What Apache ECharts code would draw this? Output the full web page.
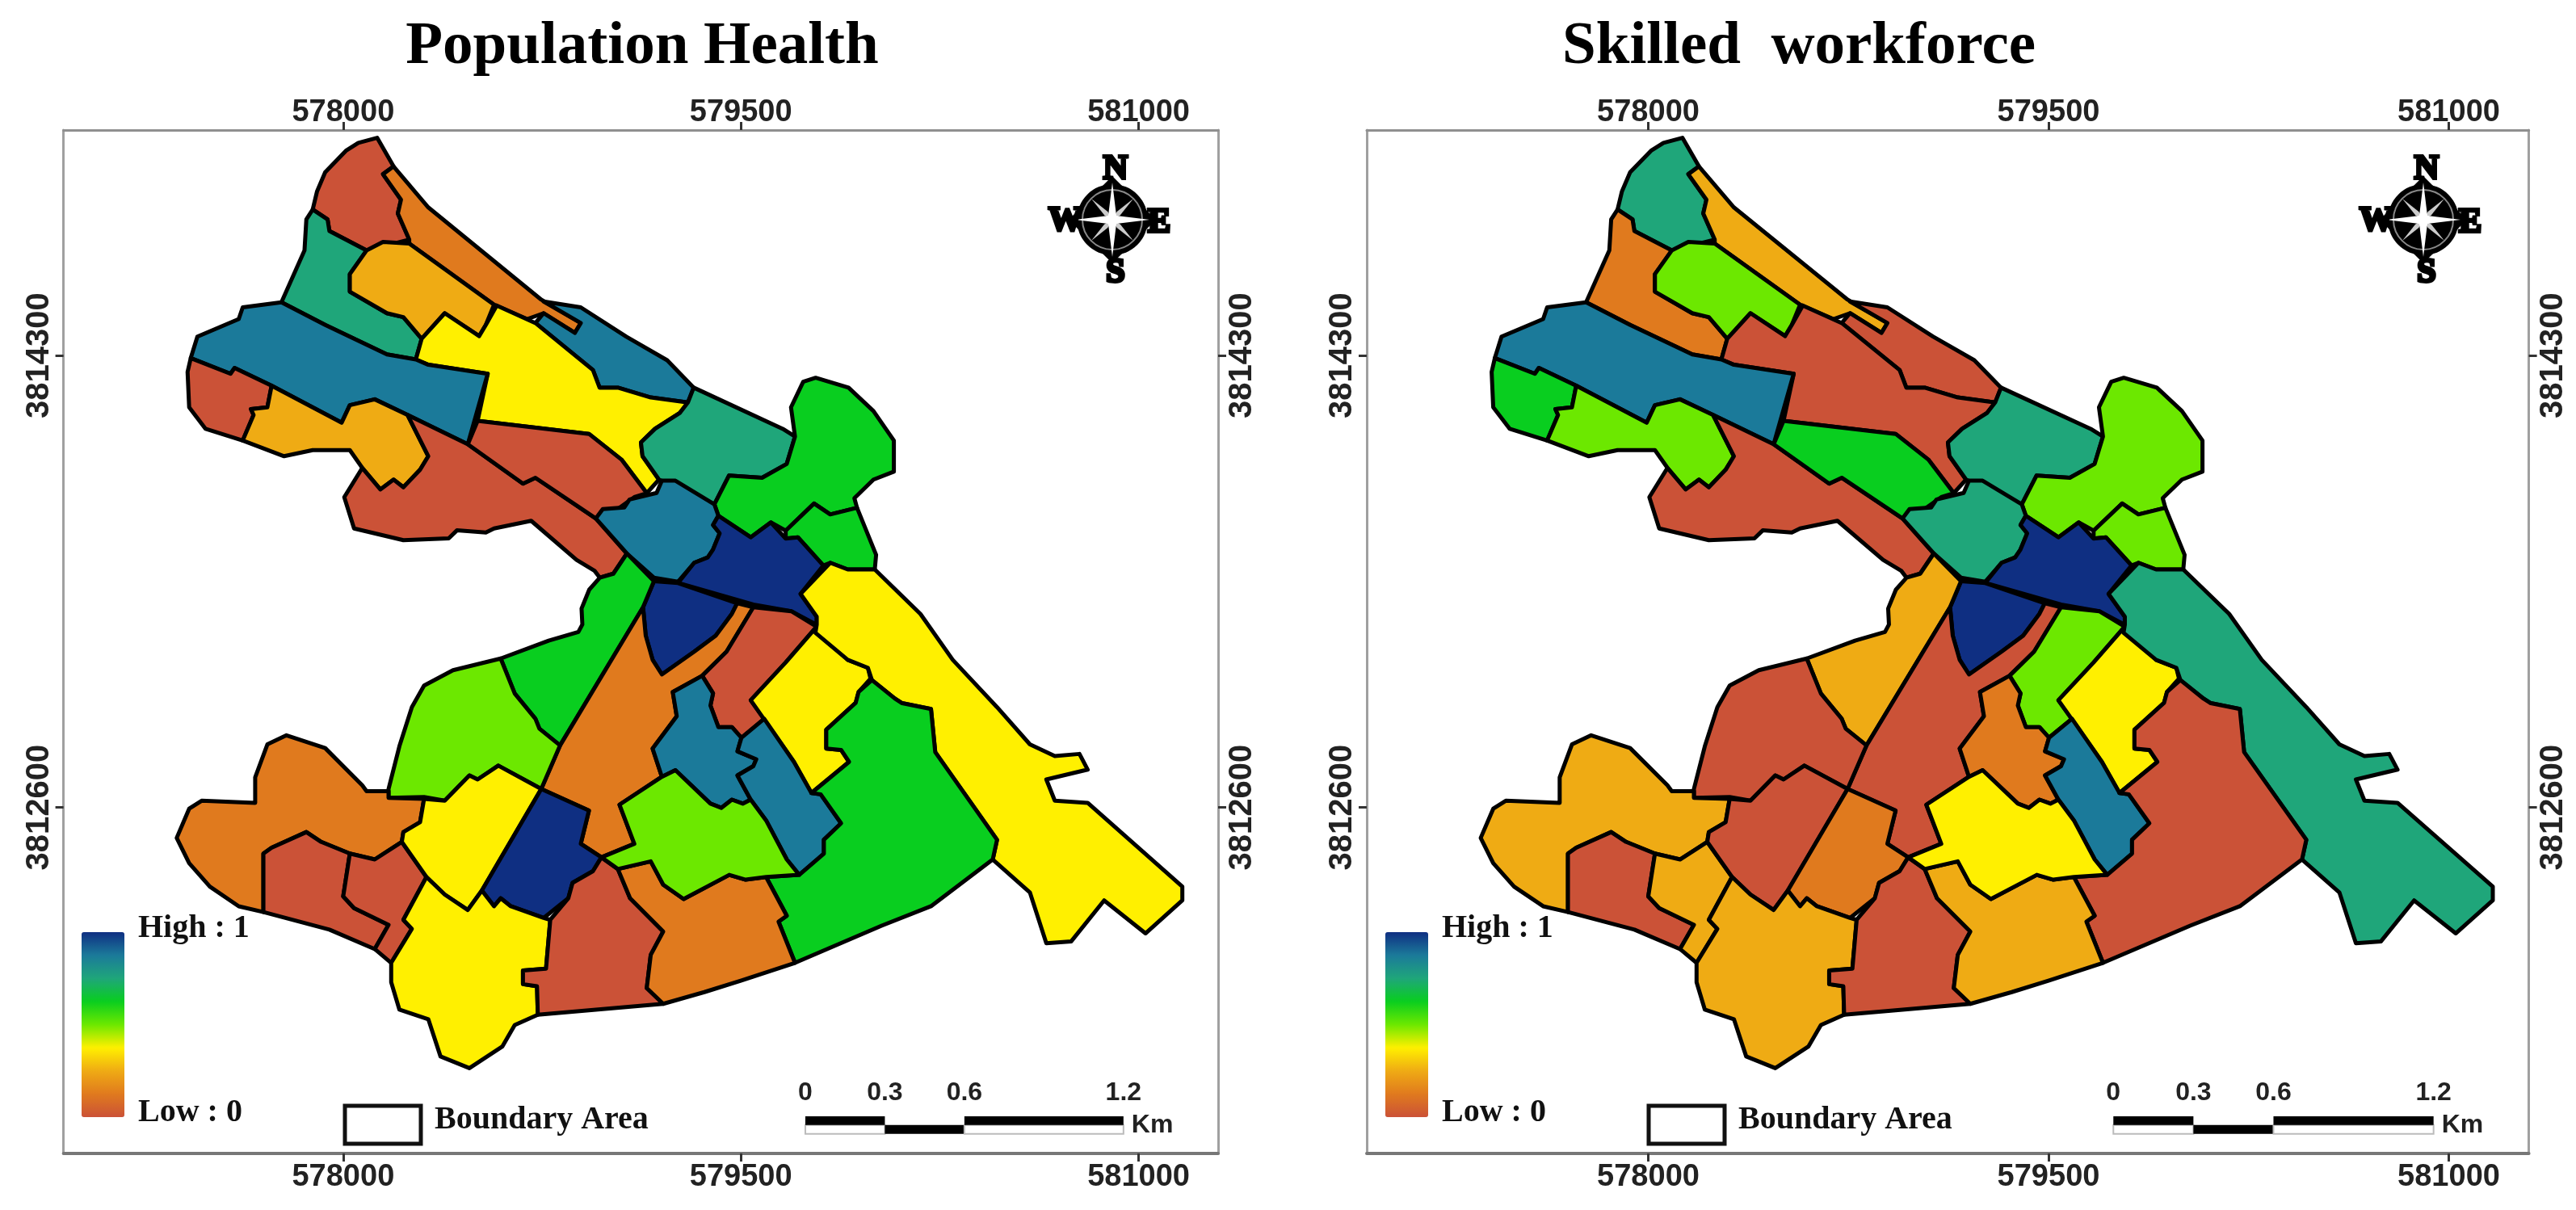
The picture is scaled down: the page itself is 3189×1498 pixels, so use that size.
<!DOCTYPE html>
<html>
<head>
<meta charset="utf-8">
<title>Population Health / Skilled workforce</title>
<script src="https://cdn.jsdelivr.net/npm/echarts@6/dist/echarts.min.js"></script>
<style>
html, body { margin: 0; padding: 0; background: #fff; }
#main { width: 3189px; height: 1498px; }
</style>
</head>
<body>
<div id="main"></div>
<script>
// 图名
const panelTitles = ['Population Health', 'Skilled  workforce'];
// 坐标轴刻度 (UTM)
const eastTicks = [578000, 579500, 581000];
const northTicks = [3812600, 3814300];
const eastRange = [576945, 581300];
const northRange = [3811298, 3815148];
// 图例和比例尺
const legendTexts = ['High : 1', 'Low : 0', 'Boundary Area'];
const scaleStops = [0, 0.3, 0.6, 1.2]; // km
const rampColors = ['#cb5237', '#e07a1e', '#efab14', '#fff000', '#6ce800', '#09ce1f', '#1fa67a', '#1b7a9a', '#0f2f82'];

// 分区边界：相对 (578000, 3812600) 的米数
const originE = 578000;
const originN = 3812600;
const zoneRings = [
    [[128,2519],[190,2411],[150,2382],[218,2286],[206,2234],[249,2136],[88,2095],[-52,2168],[-59,2212],[-115,2249],[-99,2316],[-68,2389],[10,2470],[57,2500]],
    [[190,2411],[321,2257],[747,1910],[771,1896],[896,1822],[874,1785],[756,1859],[694,1837],[569,1891],[249,2121],[249,2136],[206,2234],[218,2286],[150,2382]],
    [[756,1903],[896,1881],[1067,1771],[1222,1682],[1322,1579],[1300,1523],[1160,1542],[1036,1579],[967,1579],[942,1645],[725,1822],[756,1859],[874,1785],[896,1822]],
    [[-115,2249],[-59,2212],[-52,2168],[88,2095],[25,2006],[25,1940],[165,1859],[227,1844],[296,1763],[274,1685],[165,1704],[-68,1815],[-233,1900],[-146,2095],[-139,2212]],
    [[88,2095],[150,2127],[249,2121],[569,1891],[538,1815],[513,1773],[383,1859],[296,1763],[227,1844],[165,1859],[25,1940],[25,2006]],
    [[383,1859],[513,1773],[538,1815],[579,1888],[725,1822],[942,1645],[967,1579],[1036,1579],[1160,1542],[1300,1523],[1269,1483],[1176,1424],[1123,1373],[1129,1321],[1191,1233],[1145,1182],[1051,1307],[927,1405],[507,1454],[545,1631],[321,1665],[274,1685],[296,1763]],
    [[-233,1900],[-68,1815],[165,1704],[274,1685],[321,1665],[545,1631],[470,1366],[243,1476],[119,1535],[25,1513],[-6,1447],[-270,1586],[-410,1653],[-425,1631],[-575,1690],[-550,1771],[-394,1837],[-379,1881]],
    [[-575,1690],[-425,1631],[-410,1653],[-270,1586],[-286,1505],[-348,1498],[-338,1476],[-379,1380],[-519,1424],[-581,1505],[-587,1638]],
    [[-270,1586],[-6,1447],[25,1513],[119,1535],[243,1476],[321,1321],[290,1270],[227,1204],[190,1233],[140,1196],[72,1277],[25,1344],[-115,1344],[-223,1321],[-379,1380],[-338,1476],[-348,1498],[-286,1505]],
    [[243,1476],[470,1366],[678,1218],[725,1240],[953,1087],[1070,955],[1019,879],[968,864],[948,890],[880,931],[709,1078],[569,1049],[538,1034],[429,1042],[398,1012],[227,1005],[41,1049],[4,1167],[72,1277],[140,1196],[190,1233],[227,1204],[290,1270],[321,1321]],
    [[507,1454],[927,1405],[1051,1307],[1145,1182],[1098,1167],[1036,1123],[953,1087],[725,1240],[678,1218],[470,1366]],
    [[1322,1579],[1658,1424],[1704,1395],[1673,1292],[1580,1240],[1455,1248],[1400,1140],[1191,1233],[1129,1321],[1123,1373],[1176,1424],[1269,1483],[1300,1523]],
    [[1704,1395],[1689,1505],[1735,1601],[1782,1616],[1906,1579],[2000,1491],[2077,1380],[2077,1263],[2000,1233],[1928,1163],[1938,1127],[1837,1102],[1776,1143],[1669,1041],[1613,1072],[1537,1016],[1415,1097],[1400,1140],[1455,1248],[1580,1240],[1673,1292]],
    [[1938,1127],[2010,950],[2005,895],[1903,895],[1837,920],[1811,910],[1715,1016],[1669,1011],[1669,1041],[1776,1143],[1837,1102]],
    [[953,1087],[979,1122],[1060,1128],[1080,1158],[1182,1183],[1202,1229],[1253,1229],[1400,1140],[1415,1097],[1395,1062],[1420,1031],[1395,970],[1375,940],[1324,920],[1263,849],[1172,864],[1070,955]],
    [[1263,844],[1324,920],[1375,940],[1395,970],[1420,1031],[1395,1062],[1415,1097],[1537,1016],[1613,1072],[1669,1011],[1715,1016],[1811,910],[1725,803],[1786,717],[1786,687],[1690,738],[1547,763]],
    [[1172,851],[1263,844],[1486,768],[1466,728],[1405,646],[1324,586],[1202,500],[1167,555],[1141,646],[1131,753]],
    [[594,560],[775,627],[887,660],[902,688],[899,748],[928,819],[968,864],[1019,879],[1070,955],[1172,851],[1131,753],[818,233],[740,296],[725,333],[647,428]],
    [[818,233],[1131,753],[1141,646],[1167,555],[1202,500],[1324,586],[1405,646],[1466,728],[1486,768],[1547,753],[1446,586],[1354,495],[1243,434],[1258,343],[1167,221],[1202,115],[1042,10],[1098,-137],[974,-188],[896,-137],[927,-12],[747,69]],
    [[1547,753],[1690,738],[1786,680],[1669,545],[1537,403],[1588,333],[1502,262],[1466,302],[1415,302],[1385,383],[1395,429],[1354,495],[1446,586]],
    [[1786,680],[1903,555],[1979,525],[1989,484],[1944,434],[1933,393],[1822,292],[1822,221],[1878,216],[1908,171],[1766,54],[1700,171],[1537,403],[1669,545]],
    [[1243,434],[1354,495],[1395,429],[1385,383],[1415,302],[1466,302],[1502,262],[1487,211],[1558,181],[1547,155],[1487,120],[1537,29],[1507,14],[1466,29],[1426,-2],[1385,14],[1253,140],[1202,115],[1167,221],[1258,343]],
    [[1588,333],[1700,171],[1766,54],[1801,49],[1878,-60],[1813,-122],[1813,-174],[1720,-254],[1673,-196],[1595,-49],[1537,29],[1487,120],[1547,155],[1558,181],[1487,211],[1502,262]],
    [[1725,803],[1837,920],[1903,895],[2005,895],[2177,728],[2299,555],[2466,377],[2590,237],[2684,193],[2777,201],[2808,142],[2652,105],[2684,25],[2808,17],[3165,-298],[3165,-350],[3026,-474],[2870,-350],[2746,-504],[2652,-511],[2590,-320],[2450,-196],[2466,-122],[2233,208],[2217,370],[2108,392],[2081,409],[1994,479],[1979,525],[1903,555],[1781,657],[1786,687],[1786,717]],
    [[1994,479],[2081,409],[2108,392],[2217,370],[2233,208],[2466,-122],[2450,-196],[2217,-372],[2031,-445],[1704,-585],[1642,-430],[1673,-408],[1595,-262],[1720,-254],[1813,-174],[1813,-122],[1878,-60],[1801,49],[1766,54],[1908,171],[1878,216],[1822,221],[1822,292],[1933,393],[1944,434]],
    [[594,560],[647,428],[725,333],[740,296],[818,233],[747,69],[585,157],[507,105],[476,120],[383,25],[305,39],[171,36],[171,69],[212,230],[259,377],[305,458],[414,516]],
    [[-214,271],[-68,223],[72,83],[88,61],[171,61],[171,36],[305,32],[290,-56],[227,-93],[221,-130],[119,-196],[25,-174],[-83,-130],[-139,-93],[-270,-152],[-301,-174],[-301,-394],[-394,-372],[-503,-298],[-581,-210],[-628,-115],[-581,-5],[-534,25],[-332,17],[-332,113],[-286,237]],
    [[-139,-93],[-83,-130],[25,-174],[0,-335],[41,-379],[171,-442],[119,-533],[-52,-460],[-301,-394],[-301,-174],[-270,-152]],
    [[25,-174],[119,-196],[221,-130],[314,-262],[227,-423],[259,-457],[181,-585],[119,-533],[171,-442],[41,-379],[0,-335]],
    [[585,157],[747,69],[523,-313],[470,-386],[383,-328],[314,-262],[221,-130],[227,-93],[290,-56],[305,32],[383,25],[476,120],[507,105]],
    [[747,69],[927,-12],[896,-137],[974,-188],[942,-240],[865,-284],[849,-342],[756,-416],[632,-372],[594,-342],[569,-372],[523,-313]],
    [[314,-262],[383,-328],[470,-386],[523,-313],[569,-372],[594,-342],[632,-372],[756,-416],[781,-423],[765,-607],[678,-614],[678,-665],[731,-673],[734,-780],[647,-819],[600,-900],[476,-981],[367,-937],[321,-797],[212,-761],[181,-658],[181,-585],[259,-457],[227,-423]],
    [[781,-423],[849,-342],[865,-284],[942,-240],[974,-188],[1036,-232],[1082,-342],[1207,-467],[1160,-555],[1145,-680],[1207,-739],[734,-780],[731,-673],[678,-665],[678,-614],[765,-607]],
    [[1036,-232],[1160,-203],[1207,-291],[1284,-345],[1456,-254],[1518,-272],[1595,-262],[1673,-408],[1642,-430],[1704,-585],[1502,-651],[1362,-695],[1207,-739],[1145,-680],[1160,-555],[1207,-467],[1082,-342]],
    [[1253,140],[1385,14],[1426,-2],[1466,29],[1507,14],[1537,29],[1595,-49],[1673,-196],[1720,-254],[1595,-262],[1518,-272],[1456,-254],[1284,-345],[1207,-291],[1160,-203],[1036,-232],[974,-188],[1098,-137],[1042,10],[1202,115]]
];
// 每个分区的取值（按颜色读图估计）
const healthValues = [0, 0.125, 0.875, 0.75, 0.25, 0.375, 0.875, 0, 0.25, 0, 0, 0.75, 0.625, 0.625, 0.875, 1, 1, 0.625, 0.125, 0, 0.375, 0.875, 0.875, 0.375, 0.625, 0.5, 0.125, 0, 0, 0.375, 1, 0.375, 0, 0.125, 0.5];
const workforceValues = [0.75, 0.25, 0, 0.125, 0.5, 0, 0.875, 0.625, 0.5, 0, 0.625, 0.75, 0.5, 0.5, 0.75, 1, 1, 0.25, 0, 0.5, 0.375, 0.125, 0.875, 0.75, 0, 0, 0.25, 0, 0.25, 0, 0.125, 0.25, 0, 0.25, 0.375];

// 面板位置
const panels = [
    { left: 78.6, width: 1429.4, titleX: 790, dx: 0, roseX: 1377 },
    { left: 1692, width: 1438.6, titleX: 2222, dx: 1614, roseX: 3000 }
];
const panelTop = 161;
const panelHeight = 1267;

// 分区多边形
function renderZone(params, api) {
    const ring = zoneRings[api.value(0)];
    const points = ring.map(function (p) {
        return api.coord([originE + p[0], originN + p[1]]);
    });
    return {
        type: 'polygon',
        shape: { points: points },
        style: { fill: api.visual('color'), stroke: '#000', lineWidth: 5, lineJoin: 'round' }
    };
}

// 比例尺，起点和高度都走坐标轴
const barE = 579743;
const barN = 3811438;
const barMid = 3811405;
const barLow = 3811372;
function renderScale(params, api) {
    const i = api.value(0);
    const a = api.coord([barE + scaleStops[i] * 1000, barN]);
    const m = api.coord([barE + scaleStops[i] * 1000, barMid]);
    const low = api.coord([barE + scaleStops[i] * 1000, barLow]);
    const labelFont = 'bold 32px "Liberation Sans"';
    const children = [{
        type: 'text',
        style: { text: String(scaleStops[i]), x: a[0], y: a[1] - 29, font: labelFont, fill: '#222', textAlign: 'center', textVerticalAlign: 'middle' }
    }];
    if (i < scaleStops.length - 1) {
        const b = api.coord([barE + scaleStops[i + 1] * 1000, barN]);
        const w = b[0] - a[0];
        if (i === 1) {
            children.push({ type: 'rect', shape: { x: a[0], y: m[1], width: w, height: low[1] - m[1] }, style: { fill: '#000' } });
        } else {
            children.push({ type: 'rect', shape: { x: a[0], y: m[1], width: w, height: low[1] - m[1] }, style: { fill: '#fff', stroke: '#bbb', lineWidth: 2 } });
            children.push({ type: 'rect', shape: { x: a[0], y: a[1], width: w, height: m[1] - a[1] }, style: { fill: '#000' } });
        }
    } else {
        children.push({
            type: 'text',
            style: { text: 'Km', x: a[0] + 10, y: m[1], font: labelFont, fill: '#222', textAlign: 'left', textVerticalAlign: 'middle' }
        });
    }
    return { type: 'group', children: children };
}

// 指北针
function roseGraphic(cx) {
    const children = [];
    children.push({ type: 'polygon', shape: { points: [[0, -54], [54, 0], [0, 54], [-54, 0]] }, style: { fill: '#000' } });
    children.push({ type: 'circle', shape: { cx: 0, cy: 0, r: 44 }, style: { fill: '#000' } });
    children.push({ type: 'circle', shape: { cx: 0, cy: 0, r: 37 }, style: { fill: 'none', stroke: '#888', lineWidth: 2 } });
    [[26, 26], [-26, 26], [26, -26], [-26, -26]].forEach(function (d) {
        children.push({ type: 'polygon', shape: { points: [[0, 0], [d[0] * 0.3 + d[1] * 0.08, d[1] * 0.3 - d[0] * 0.08], [d[0], d[1]], [d[0] * 0.3 - d[1] * 0.08, d[1] * 0.3 + d[0] * 0.08]] }, style: { fill: '#ccc' } });
    });
    children.push({ type: 'polygon', shape: { points: [[0, -46], [5, -5], [46, 0], [5, 5], [0, 46], [-5, 5], [-46, 0], [-5, -5]] }, style: { fill: '#fff' } });
    [['N', 4, -62], ['S', 4, 66], ['W', -58, 2], ['E', 58, 4]].forEach(function (t) {
        children.push({
            type: 'text', x: t[1], y: t[2],
            style: { text: t[0], font: 'bold 42px "Liberation Serif"', fill: '#000', stroke: '#000', lineWidth: 4, textAlign: 'center', textVerticalAlign: 'middle' }
        });
    });
    return { type: 'group', x: cx, y: 272, children: children };
}

// 图例文字和边界框
function legendGraphics(dx) {
    const font = 'bold 40px "Liberation Serif"';
    return [
        { type: 'text', x: 171 + dx, y: 1170, style: { text: legendTexts[0], font: font, fill: '#111', textVerticalAlign: 'bottom' } },
        { type: 'text', x: 171 + dx, y: 1398, style: { text: legendTexts[1], font: font, fill: '#111', textVerticalAlign: 'bottom' } },
        { type: 'rect', shape: { x: 427 + dx, y: 1369, width: 94, height: 47 }, style: { fill: '#fff', stroke: '#111', lineWidth: 5 } },
        { type: 'text', x: 538 + dx, y: 1407, style: { text: legendTexts[2], font: font, fill: '#111', textVerticalAlign: 'bottom' } }
    ];
}

function axisLabelFormat(v) {
    return String(v);
}

function eastAxis(gridIndex, position, line) {
    return {
        type: 'value', gridIndex: gridIndex, position: position,
        min: eastRange[0], max: eastRange[1],
        splitLine: { show: false },
        axisLine: { show: true, onZero: false, lineStyle: line },
        axisTick: { show: true, customValues: eastTicks, length: 10, lineStyle: { color: '#333', width: 3 } },
        axisLabel: { show: true, customValues: eastTicks, margin: position === 'top' ? 2 : 11, formatter: axisLabelFormat, color: '#222', fontFamily: 'Liberation Sans', fontWeight: 'bold', fontSize: 38 }
    };
}

function northAxis(gridIndex, position, line) {
    return {
        type: 'value', gridIndex: gridIndex, position: position,
        min: northRange[0], max: northRange[1],
        splitLine: { show: false },
        axisLine: { show: true, onZero: false, lineStyle: line },
        axisTick: { show: true, customValues: northTicks, length: 10, lineStyle: { color: '#333', width: 3 } },
        axisLabel: { show: true, customValues: northTicks, rotate: 90, margin: 10, formatter: axisLabelFormat, color: '#222', fontFamily: 'Liberation Sans', fontWeight: 'bold', fontSize: 40 }
    };
}

const zoneData = [healthValues, workforceValues].map(function (values) {
    return values.map(function (v, i) { return [i, v]; });
});
const scaleData = scaleStops.map(function (s, i) { return [i, s]; });

const lineTop = { color: '#8f8f8f', width: 3 };
const lineBottom = { color: '#777', width: 4 };
const lineSide = { color: '#a0a0a0', width: 3 };

let graphics = [];
panels.forEach(function (p) {
    graphics = graphics.concat(legendGraphics(p.dx));
    graphics.push(roseGraphic(p.roseX));
});

const option = {
    backgroundColor: '#fff',
    animation: false,
    title: panels.map(function (p, i) {
        return {
            text: panelTitles[i], left: p.titleX, top: 16, textAlign: 'center',
            textStyle: { fontFamily: 'Liberation Serif', fontWeight: 'bold', fontSize: 75, color: '#000' }
        };
    }),
    grid: panels.map(function (p) {
        return { left: p.left, top: panelTop, width: p.width, height: panelHeight };
    }),
    xAxis: [
        eastAxis(0, 'bottom', lineBottom), eastAxis(0, 'top', lineTop),
        eastAxis(1, 'bottom', lineBottom), eastAxis(1, 'top', lineTop)
    ],
    yAxis: [
        northAxis(0, 'left', lineSide), northAxis(0, 'right', lineSide),
        northAxis(1, 'left', lineSide), northAxis(1, 'right', lineSide)
    ],
    visualMap: panels.map(function (p, i) {
        return {
            type: 'continuous', seriesIndex: i, dimension: 1, min: 0, max: 1,
            calculable: false, hoverLink: false, text: null, showLabel: false,
            left: 101 + p.dx, top: 1154, itemWidth: 53, itemHeight: 229, padding: 0,
            inRange: { color: rampColors }
        };
    }),
    series: [
        { type: 'custom', xAxisIndex: 0, yAxisIndex: 0, renderItem: renderZone, data: zoneData[0], silent: true },
        { type: 'custom', xAxisIndex: 2, yAxisIndex: 2, renderItem: renderZone, data: zoneData[1], silent: true },
        { type: 'custom', xAxisIndex: 0, yAxisIndex: 0, renderItem: renderScale, data: scaleData, silent: true },
        { type: 'custom', xAxisIndex: 2, yAxisIndex: 2, renderItem: renderScale, data: scaleData, silent: true }
    ],
    graphic: graphics
};

const myChart = echarts.init(document.getElementById('main'));
myChart.setOption(option);
</script>
</body>
</html>
